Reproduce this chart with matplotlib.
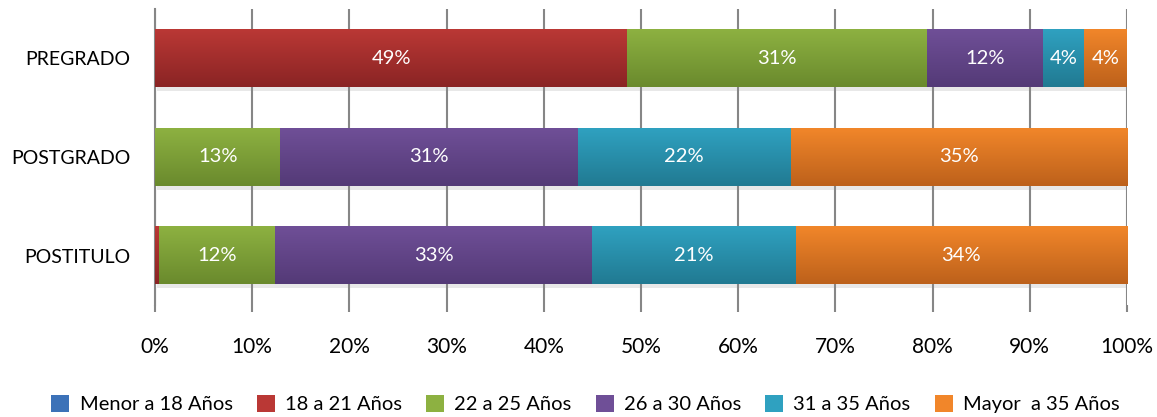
import numpy as np
import matplotlib
matplotlib.use("Agg")
import matplotlib.pyplot as plt
from matplotlib.patches import Patch
import matplotlib.patheffects as pe

# data (percent of each group)
niveles = ["PREGRADO", "POSTGRADO", "POSTITULO"]
rangos = ["Menor a 18 Años", "18 a 21 Años", "22 a 25 Años",
          "26 a 30 Años", "31 a 35 Años", "Mayor  a 35 Años"]
menor_18 = [0.0, 0.0, 0.0]
a18_21 = [48.6, 0.0, 0.4]
a22_25 = [30.8, 12.9, 11.9]
a26_30 = [12.0, 30.6, 32.7]
a31_35 = [4.2, 21.9, 20.9]
mayor_35 = [4.4, 34.6, 34.1]
series = [menor_18, a18_21, a22_25, a26_30, a31_35, mayor_35]
xticks = np.arange(0, 101, 10)

# top / bottom gradient colours per series
top_cols = ["#3C72B8", "#BA3835", "#8DB141", "#6F4F97", "#2FA1C0", "#F1862A"]
bot_cols = ["#2A5186", "#8A2424", "#6A8A2D", "#543A77", "#217A92", "#BD611B"]

plt.rcParams["font.family"] = ["Lato", "DejaVu Sans"]

fig = plt.figure(figsize=(11.57, 4.17), dpi=100)
ax = fig.add_axes([155 / 1157, 1 - 305 / 417, 972 / 1157, 296 / 417])

y = np.arange(len(niveles))
left = np.zeros(len(niveles))
for vals, c_top, c_bot, name in zip(series, top_cols, bot_cols, rangos):
    vals = np.array(vals)
    bars = ax.barh(y, vals, left=left, height=0.58, color=c_top, label=name,
                   zorder=3, linewidth=0)
    grad = np.linspace(0, 1, 64)[:, None]
    rgb_t = np.array(matplotlib.colors.to_rgb(c_top))
    rgb_b = np.array(matplotlib.colors.to_rgb(c_bot))
    img = (rgb_t[None, None, :] * (1 - grad[..., None]) + rgb_b[None, None, :] * grad[..., None])
    for b, v in zip(bars, vals):
        if v <= 0:
            continue
        b.set_path_effects([pe.SimplePatchShadow(offset=(1.5, -3), shadow_rgbFace="#909090", alpha=0.2), pe.Normal()])
        x0, y0, w, h = b.get_x(), b.get_y(), b.get_width(), b.get_height()
        ax.imshow(img, extent=(x0, x0 + w, y0 + h, y0), aspect="auto",
                  zorder=4, interpolation="bilinear")
        if v >= 1:
            ax.text(x0 + w / 2, y0 + h / 2, f"{v:.0f}%", color="white",
                    ha="center", va="center", fontsize=14.5, zorder=5)
    left += vals

ax.set_xlim(0, 100)
ax.set_ylim(len(niveles) - 0.5, -0.5)
ax.set_xticks(xticks)
ax.set_xticklabels([f"{t}%" for t in xticks], fontsize=15)
ax.set_yticks(y)
ax.set_yticklabels(niveles, fontsize=14)
ax.tick_params(axis="x", length=5, width=1.5, color="#868686", pad=18)
ax.tick_params(axis="y", length=0, pad=18)
ax.grid(axis="x", color="#868686", linewidth=1.5, zorder=0)
for s in ["top", "right", "bottom"]:
    ax.spines[s].set_visible(False)
ax.spines["left"].set_color("#868686")
ax.spines["left"].set_linewidth(1.5)

handles = [Patch(facecolor=c) for c in top_cols]
fig.legend(handles, rangos, loc="lower center", bbox_to_anchor=(0.506, -0.035),
           ncol=6, frameon=False, handlelength=0.9, handleheight=0.9,
           handletextpad=0.5, columnspacing=1.2,
           prop={"size": 14.5})

fig.savefig("out.png", dpi=100)
